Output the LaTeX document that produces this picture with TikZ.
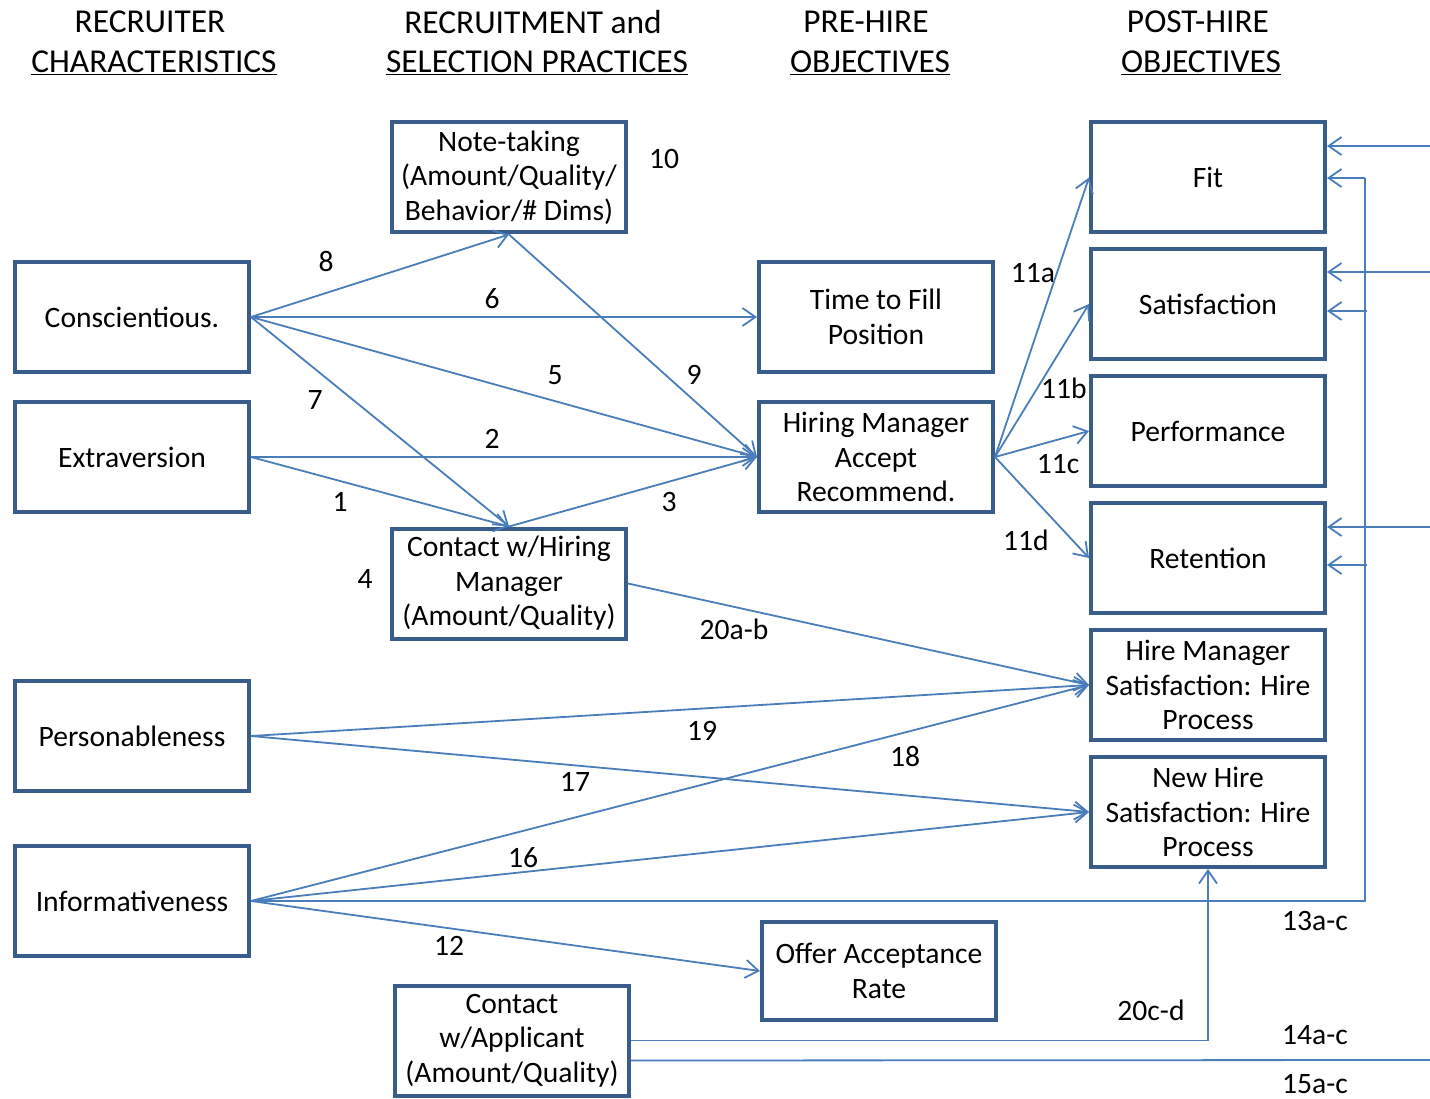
\documentclass[tikz,border=0pt]{standalone}
\usepackage{fontspec}
\setmainfont{Carlito}
\usetikzlibrary{arrows.meta}
\definecolor{boxc}{RGB}{56,93,138}
\definecolor{arrc}{RGB}{74,126,187}
\newcommand\myBody{\fontsize{29.6}{34.5}\selectfont}
\newcommand\myHead{\fontsize{33.4}{38}\selectfont}
\begin{document}
\begin{tikzpicture}[x=1pt,y=-1pt,
 box/.style={draw=boxc, line width=4pt, minimum width=234pt, minimum height=110pt, align=center, inner sep=2pt, font=\myBody},
 conn/.style={draw=arrc, line width=1.8pt},
 arr/.style={conn, -{Straight Barb[length=13pt,width=18pt]}},
 lab/.style={font=\myBody, inner sep=0pt},
 hd/.style={font=\myHead, inner sep=0pt}]
\useasboundingbox (0,0) rectangle (1430,1099);

% headers
\node[hd] (h1a) at (150,22) {RECRUITER};
\node[hd] (h1b) at (154,63) {\underline{CHARACTERISTICS}};
\node[hd] (h2a) at (533,22) {RECRUITMENT and};
\node[hd] (h2b) at (537,63) {\underline{SELECTION PRACTICES}};
\node[hd] (h3a) at (866,22) {PRE-HIRE};
\node[hd] (h3b) at (870,63) {\underline{OBJECTIVES}};
\node[hd] (h4a) at (1198,22) {POST-HIRE};
\node[hd] (h4b) at (1201,63) {\underline{OBJECTIVES}};

% boxes
\node[box] (cons) at (132,317) {Conscientious.};
\node[box] (extr) at (132,457) {Extraversion};
\node[box] (pers) at (132,736) {Personableness};
\node[box] (info) at (132,901) {Informativeness};
\node[box] (note) at (509,177.5) {Note-taking\\(Amount/Quality/\\Behavior/\# Dims)};
\node[box] (chm) at (509,583.5) {Contact w/Hiring\\Manager\\(Amount/Quality)};
\node[box] (cap) at (512,1040.5) {Contact\\w/Applicant\\(Amount/Quality)};
\node[box] (ttf) at (876,317) {Time to Fill\\Position};
\node[box] (hma) at (876,457) {Hiring Manager\\Accept\\Recommend.};
\node[box, minimum height=98pt] (oar) at (879,971) {Offer Acceptance\\Rate};
\node[box] (fit) at (1208,177.5) {Fit};
\node[box] (sat) at (1208,304) {Satisfaction};
\node[box] (perf) at (1208,431) {Performance};
\node[box] (ret) at (1208,558) {Retention};
\node[box] (hms) at (1208,685) {Hire Manager\\Satisfaction: Hire\\Process};
\node[box] (nhs) at (1208,812) {New Hire\\Satisfaction: Hire\\Process};

% connectors
\draw[arr] (cons.east) -- (note.south);
\draw[arr] (cons.east) -- (ttf.west);
\draw[arr] (cons.east) -- (hma.west);
\draw[arr] (cons.east) -- (chm.north);
\draw[arr] (extr.east) -- (hma.west);
\draw[arr] (extr.east) -- (chm.north);
\draw[arr] (chm.north) -- (hma.west);
\draw[arr] (note.south) -- (hma.west);
\draw[arr] (hma.east) -- (fit.west);
\draw[arr] (hma.east) -- (sat.west);
\draw[arr] (hma.east) -- (perf.west);
\draw[arr] (hma.east) -- (ret.west);
\draw[arr] (chm.east) -- (hms.west);
\draw[arr] (pers.east) -- (hms.west);
\draw[arr] (pers.east) -- (nhs.west);
\draw[arr] (info.east) -- (hms.west);
\draw[arr] (info.east) -- (nhs.west);
\draw[arr] (info.east) -- (oar.west);

% 13a-c
\coordinate (v13b) at (1365,901);
\coordinate (v13t) at (1365,178);
\coordinate (b13s) at (1367,311);
\coordinate (b13r) at (1367,565);
\draw[conn] (info.east) -- (v13b) -- (v13t);
\draw[arr] (v13t) -- (fit.east |- v13t);
\draw[arr] (b13s) -- (sat.east |- b13s);
\draw[arr] (b13r) -- (ret.east |- b13r);

% 14/15 and 20c-d
\draw[arr] (cap.east) -| (nhs.south);
\coordinate (c15) at ([yshift=-20pt]cap.east);
\coordinate (e15) at (1430,1060);
\draw[conn] (c15) -- (e15);
\coordinate (e1) at (1430,146);
\coordinate (e2) at (1430,272);
\coordinate (e3) at (1430,527);
\draw[arr] (e1) -- (fit.east |- e1);
\draw[arr] (e2) -- (sat.east |- e2);
\draw[arr] (e3) -- (ret.east |- e3);

% labels
\node[lab] (l8) at (326,261) {8};
\node[lab] (l6) at (492,299) {6};
\node[lab] (l5) at (555,375) {5};
\node[lab] (l7) at (315,400) {7};
\node[lab] (l2) at (492,439) {2};
\node[lab] (l1) at (340,502) {1};
\node[lab] (l4) at (365,579) {4};
\node[lab] (l3) at (669,502) {3};
\node[lab] (l9) at (694,375) {9};
\node[lab] (l10) at (664,159) {10};
\node[lab] (l11a) at (1033,273) {11a};
\node[lab] (l11b) at (1064,388) {11b};
\node[lab] (l11c) at (1058,464) {11c};
\node[lab] (l11d) at (1026,540) {11d};
\node[lab] (l20ab) at (734,629) {20a-b};
\node[lab] (l19) at (702,731) {19};
\node[lab] (l18) at (905,756) {18};
\node[lab] (l17) at (575,782) {17};
\node[lab] (l16) at (523,858) {16};
\node[lab] (l12) at (449,946) {12};
\node[lab] (l13) at (1315,921) {13a-c};
\node[lab] (l20cd) at (1151,1010) {20c-d};
\node[lab] (l14) at (1315,1035) {14a-c};
\node[lab] (l15) at (1315,1084) {15a-c};
\end{tikzpicture}
\end{document}
